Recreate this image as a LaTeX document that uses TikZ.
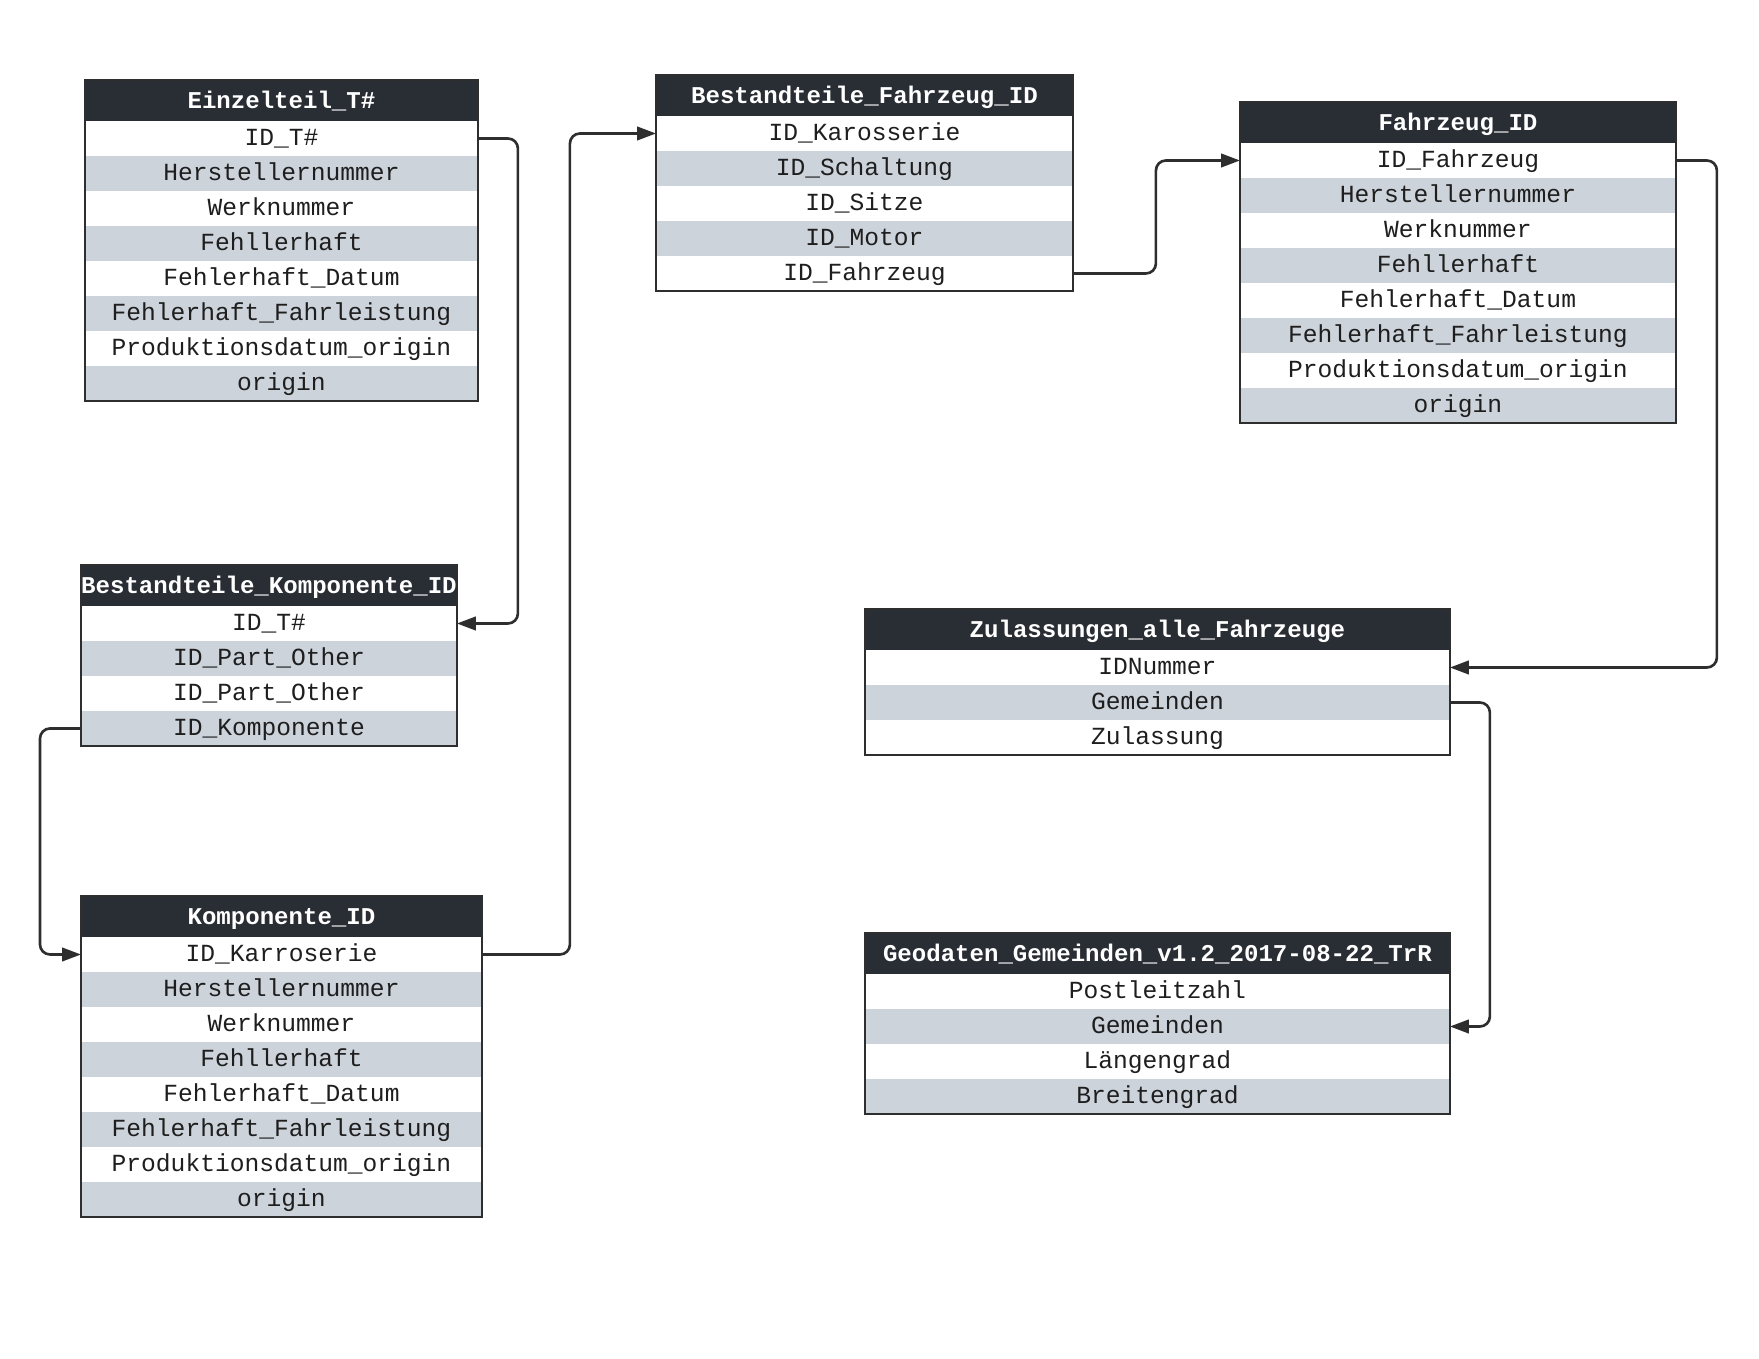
\documentclass[tikz,border=0pt]{standalone}
\usepackage{fontspec}
\setmonofont{Liberation Mono}
\usepackage{tikz}
\usetikzlibrary{arrows.meta, positioning}
\usepackage{xcolor}
\definecolor{kopfdunkel}{HTML}{292D34}
\definecolor{zeilengrau}{HTML}{CDD3DB}
\definecolor{liniendunkel}{HTML}{2E2E2E}
\definecolor{textdunkel}{HTML}{1E1E1E}

\tikzset{
  kopf/.style={fill=kopfdunkel, text=white, inner sep=0pt, outer sep=0pt, minimum height=0.82cm,
    font=\ttfamily\bfseries\fontsize{13.7}{16}\selectfont, text height=12.6pt, text depth=3pt},
  zeile/.style={inner sep=0pt, outer sep=0pt, minimum height=0.7cm, text=textdunkel,
    font=\ttfamily\fontsize{14}{16}\selectfont, text height=11.3pt, text depth=3pt},
  rahmen/.style={draw=liniendunkel, line width=1.5pt},
  verbindung/.style={draw=liniendunkel, line width=1.5pt, rounded corners=0.2cm,
    -{Triangle[length=0.38cm, width=0.27cm]}}
}

% #1 name, #2 ecke oben links, #3 breite, #4 titel, #5 felder
\newcommand{\ertabelle}[5]{%
  \node[kopf, minimum width=#3, anchor=north west] (#1-0) at #2 {\makebox[0pt]{#4}};
  \foreach \feld [count=\i, evaluate=\i as \vor using int(\i-1)] in {#5} {
    \ifodd\i \def\zfarbe{white}\else \def\zfarbe{zeilengrau}\fi
    \node[zeile, fill=\zfarbe, minimum width=#3, below=0pt of #1-\vor] (#1-\i) {\feld};
    \xdef\letzte{\i}
  }
  \draw[rahmen] (#1-0.north west) rectangle (#1-\letzte.south east);
}

\begin{document}
\begin{tikzpicture}[x=0.02cm, y=-0.02cm]
  \useasboundingbox (0,0) rectangle (1759,1359);

  % tabellen
  \ertabelle{ein}{(85,80)}{7.86cm}{Einzelteil\_T\#}
    {ID\_T\#, Herstellernummer, Werknummer, Fehllerhaft, Fehlerhaft\_Datum,
     Fehlerhaft\_Fahrleistung, Produktionsdatum\_origin, origin}
  \ertabelle{bfz}{(656,75)}{8.34cm}{Bestandteile\_Fahrzeug\_ID}
    {ID\_Karosserie, ID\_Schaltung, ID\_Sitze, ID\_Motor, ID\_Fahrzeug}
  \ertabelle{fzg}{(1240,102)}{8.72cm}{Fahrzeug\_ID}
    {ID\_Fahrzeug, Herstellernummer, Werknummer, Fehllerhaft, Fehlerhaft\_Datum,
     Fehlerhaft\_Fahrleistung, Produktionsdatum\_origin, origin}
  \ertabelle{bko}{(81,565)}{7.52cm}{Bestandteile\_Komponente\_ID}
    {ID\_T\#, ID\_Part\_Other, ID\_Part\_Other, ID\_Komponente}
  \ertabelle{kom}{(81,896)}{8.02cm}{Komponente\_ID}
    {ID\_Karroserie, Herstellernummer, Werknummer, Fehllerhaft, Fehlerhaft\_Datum,
     Fehlerhaft\_Fahrleistung, Produktionsdatum\_origin, origin}
  \ertabelle{zul}{(865,609)}{11.7cm}{Zulassungen\_alle\_Fahrzeuge}
    {IDNummer, Gemeinden, Zulassung}
  \ertabelle{geo}{(865,933)}{11.7cm}{Geodaten\_Gemeinden\_v1.2\_2017-08-22\_TrR}
    {Postleitzahl, Gemeinden, Längengrad, Breitengrad}

  % beziehungen
  \draw[verbindung] (ein-1.east) -- ++(40,0) |- (bko-1.east);
  \draw[verbindung] (bko-4.west) -- ++(-41,0) |- (kom-1.west);
  \draw[verbindung] (kom-1.east) -- ++(88,0) |- (bfz-1.west);
  \draw[verbindung] (bfz-5.east) -- ++(83,0) |- (fzg-1.west);
  \draw[verbindung] (fzg-1.east) -- ++(41,0) |- (zul-1.east);
  \draw[verbindung] (zul-2.east) -- ++(40,0) |- (geo-2.east);
\end{tikzpicture}
\end{document}
